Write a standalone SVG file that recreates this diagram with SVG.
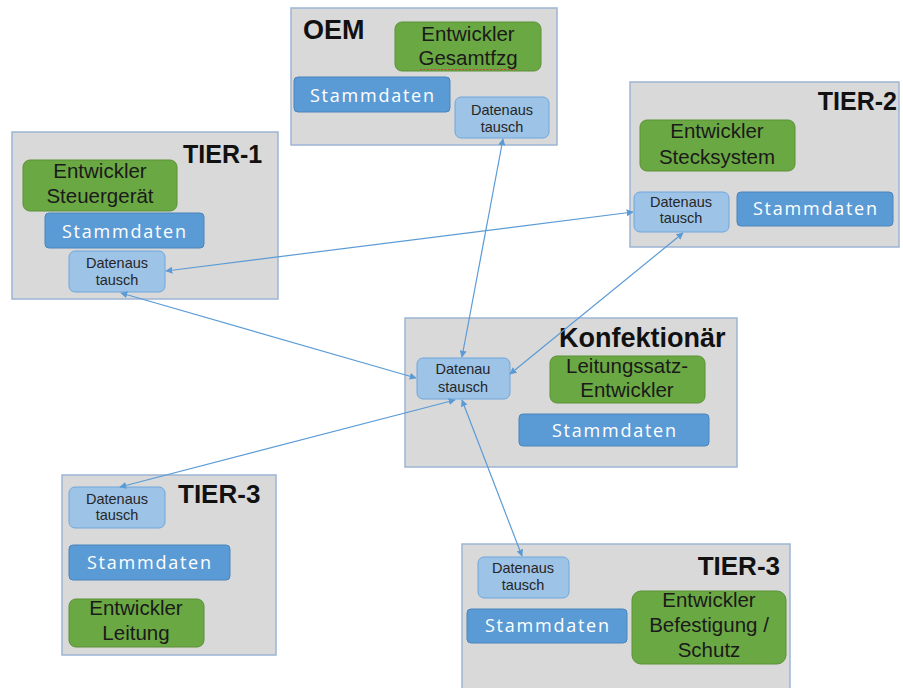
<svg xmlns="http://www.w3.org/2000/svg" width="903" height="688" viewBox="0 0 903 688">
  <defs>
    <marker id="arrow" viewBox="0 0 10 10" refX="9" refY="5" markerWidth="7" markerHeight="7" markerUnits="userSpaceOnUse" orient="auto-start-reverse">
      <path d="M0,0 L10,5 L0,10 z" fill="#5b9bd5"/>
    </marker>
    <style>
      .panel { fill: #d9d9d9; stroke: #9db5d5; stroke-width: 1.5; }
      .dev { fill: #6aa843; stroke: #5a9137; stroke-width: 1; }
      .master { fill: #5b9bd5; stroke: #4a84bb; stroke-width: 1; }
      .xchg { fill: #9dc3e6; stroke: #6fa6dc; stroke-width: 1; }
      .title { font-family: "Liberation Sans", Arial, sans-serif; font-weight: bold; font-size: 25px; fill: #111; }
      .title.big { font-size: 27px; }
      .title.mid { font-size: 26px; }
      .devt { font-family: "Liberation Sans", Arial, sans-serif; font-size: 20.5px; fill: #1a1a1a; text-anchor: middle; }
      .mast { font-family: "Open Sans", "Liberation Sans", sans-serif; font-size: 18px; fill: #ffffff; text-anchor: middle; }
      .xt { font-family: "Liberation Sans", Arial, sans-serif; font-size: 14.5px; fill: #262626; text-anchor: middle; }
      .link { fill: none; stroke: #5b9bd5; stroke-width: 1.2; marker-start: url(#arrow); marker-end: url(#arrow); }
    </style>
  </defs>

  <!-- OEM -->
  <g id="oem">
    <rect class="panel" x="291" y="8" width="266" height="137"/>
    <text class="title big" x="303" y="39">OEM</text>
    <rect class="dev" x="395" y="22" width="146" height="49" rx="7"/>
    <text class="devt" x="468" y="41">Entwickler</text>
    <text class="devt" x="468" y="65">Gesamtfzg</text>
    <line x1="420" y1="69.5" x2="517" y2="69.5" stroke="#d04040" stroke-width="1" stroke-dasharray="2 1.5"/>
    <rect class="master" x="294" y="77" width="156" height="35" rx="4"/>
    <text class="mast" x="372" y="102" textLength="124" lengthAdjust="spacing">Stammdaten</text>
    <rect class="xchg" x="455" y="97" width="94" height="41" rx="6"/>
    <text class="xt" x="502" y="115">Datenaus</text>
    <text class="xt" x="502" y="132">tausch</text>
  </g>

  <!-- TIER-1 -->
  <g id="tier1">
    <rect class="panel" x="12" y="132" width="266" height="167"/>
    <text class="title" x="183" y="163">TIER-1</text>
    <rect class="dev" x="23" y="160" width="154" height="51" rx="7"/>
    <text class="devt" x="100" y="178">Entwickler</text>
    <text class="devt" x="100" y="203">Steuergerät</text>
    <rect class="master" x="45" y="213" width="159" height="35" rx="4"/>
    <text class="mast" x="124" y="238" textLength="124" lengthAdjust="spacing">Stammdaten</text>
    <rect class="xchg" x="69" y="251" width="96" height="41" rx="6"/>
    <text class="xt" x="117" y="268">Datenaus</text>
    <text class="xt" x="117" y="285">tausch</text>
  </g>

  <!-- TIER-2 -->
  <g id="tier2">
    <rect class="panel" x="630" y="82" width="269" height="165"/>
    <text class="title" x="897" y="110" text-anchor="end">TIER-2</text>
    <rect class="dev" x="640" y="120" width="155" height="51" rx="7"/>
    <text class="devt" x="717" y="138">Entwickler</text>
    <text class="devt" x="717" y="164">Stecksystem</text>
    <rect class="xchg" x="634" y="192" width="95" height="40" rx="6"/>
    <text class="xt" x="681" y="207">Datenaus</text>
    <text class="xt" x="681" y="223">tausch</text>
    <rect class="master" x="737" y="192" width="156" height="34" rx="4"/>
    <text class="mast" x="815" y="215" textLength="124" lengthAdjust="spacing">Stammdaten</text>
  </g>

  <!-- Konfektionär -->
  <g id="konfektionaer">
    <rect class="panel" x="405" y="318" width="332" height="149"/>
    <text class="title big" x="559" y="347">Konfektionär</text>
    <rect class="xchg" x="417" y="358" width="93" height="41" rx="6"/>
    <text class="xt" x="463" y="374">Datenau</text>
    <text class="xt" x="463" y="392">stausch</text>
    <rect class="dev" x="550" y="356" width="155" height="47" rx="7"/>
    <text class="devt" x="627" y="373">Leitungssatz-</text>
    <text class="devt" x="627" y="397">Entwickler</text>
    <rect class="master" x="519" y="414" width="190" height="32" rx="4"/>
    <text class="mast" x="614" y="437" textLength="124" lengthAdjust="spacing">Stammdaten</text>
  </g>

  <!-- TIER-3 (Leitung) -->
  <g id="tier3-leitung">
    <rect class="panel" x="62" y="475" width="214" height="180"/>
    <text class="title mid" x="178" y="503">TIER-3</text>
    <rect class="xchg" x="69" y="487" width="96" height="41" rx="6"/>
    <text class="xt" x="117" y="504">Datenaus</text>
    <text class="xt" x="117" y="520">tausch</text>
    <rect class="master" x="69" y="545" width="161" height="35" rx="4"/>
    <text class="mast" x="149" y="569" textLength="124" lengthAdjust="spacing">Stammdaten</text>
    <rect class="dev" x="69" y="599" width="135" height="48" rx="7"/>
    <text class="devt" x="136" y="615">Entwickler</text>
    <text class="devt" x="136" y="640">Leitung</text>
  </g>

  <!-- TIER-3 (Befestigung / Schutz) -->
  <g id="tier3-befestigung">
    <rect class="panel" x="462" y="544" width="328" height="160"/>
    <text class="title mid" x="780" y="575" text-anchor="end">TIER-3</text>
    <rect class="xchg" x="478" y="557" width="91" height="41" rx="6"/>
    <text class="xt" x="523" y="573">Datenaus</text>
    <text class="xt" x="523" y="590">tausch</text>
    <rect class="master" x="467" y="609" width="160" height="34" rx="4"/>
    <text class="mast" x="547" y="632" textLength="124" lengthAdjust="spacing">Stammdaten</text>
    <rect class="dev" x="632" y="591" width="154" height="73" rx="9"/>
    <text class="devt" x="709" y="607">Entwickler</text>
    <text class="devt" x="709" y="632">Befestigung /</text>
    <text class="devt" x="709" y="657">Schutz</text>
  </g>

  <!-- data exchange links -->
  <g id="connectors">
    <line class="link" x1="503" y1="139" x2="462" y2="357"/>
    <line class="link" x1="683" y1="233" x2="510" y2="374"/>
    <line class="link" x1="633" y1="212" x2="166" y2="271"/>
    <line class="link" x1="121" y1="293" x2="416" y2="378"/>
    <line class="link" x1="120" y1="487" x2="455" y2="400"/>
    <line class="link" x1="522" y1="556" x2="462" y2="400"/>
  </g>
</svg>
